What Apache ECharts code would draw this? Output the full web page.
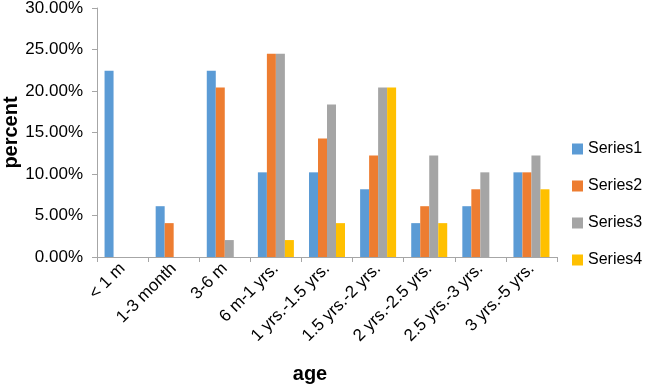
<!DOCTYPE html>
<html>
<head>
<meta charset="utf-8">
<script src="https://cdn.jsdelivr.net/npm/echarts@6/dist/echarts.min.js"></script>
<style>
  html, body { margin: 0; padding: 0; background: #fff; }
  #chart { width: 646px; height: 387px; }
</style>
</head>
<body>
<div id="chart"></div>
<script>
var categories = ['< 1 m', '1-3 month', '3-6 m', '6 m-1 yrs.', '1 yrs.-1.5 yrs.',
  '1.5 yrs.-2 yrs.', '2 yrs.-2.5 yrs.', '2.5 yrs.-3 yrs.', '3 yrs.-5 yrs.']
var series1 = [22.45, 6.12, 22.45, 10.2, 10.2, 8.16, 4.08, 6.12, 10.2]
var series2 = [0, 4.08, 20.41, 24.49, 14.29, 12.24, 6.12, 8.16, 10.2]
var series3 = [0, 0, 2.04, 24.49, 18.37, 20.41, 12.24, 10.2, 12.24]
var series4 = [0, 0, 0, 2.04, 4.08, 20.41, 4.08, 0, 8.16]
var seriesNames = ['Series1', 'Series2', 'Series3', 'Series4']
var colors = ['#5B9BD5', '#ED7D31', '#A5A5A5', '#FFC000']

var font = 'Liberation Sans'
var chart = echarts.init(document.getElementById('chart'))

function makeBar (name, data, color) {
  return {
    name: name,
    type: 'bar',
    data: data,
    barWidth: 9,
    barGap: '0%',
    itemStyle: { color: color },
    emphasis: { disabled: true }
  }
}

var option = {
  animation: false,
  textStyle: { fontFamily: font },
  grid: { left: 97, right: 89, top: 8, bottom: 130, outerBoundsMode: 'none' },
  legend: {
    orient: 'vertical',
    left: 572,
    top: 141,
    padding: 0,
    itemWidth: 11,
    itemHeight: 11,
    itemGap: 21,
    icon: 'rect',
    data: seriesNames,
    textStyle: { fontSize: 16, color: '#000', fontFamily: font }
  },
  xAxis: {
    type: 'category',
    data: categories,
    name: 'age',
    nameLocation: 'middle',
    nameGap: 107,
    nameMoveOverlap: false,
    nameTextStyle: {
      fontSize: 20,
      fontWeight: 'bold',
      color: '#000',
      fontFamily: font,
      padding: [0, 34, 0, 0]
    },
    axisLine: { lineStyle: { color: '#A6A6A6' } },
    axisTick: { show: true, length: 5, lineStyle: { color: '#A6A6A6' } },
    axisLabel: { rotate: 45, fontSize: 17, color: '#000', margin: 9, interval: 0 }
  },
  yAxis: {
    type: 'value',
    min: 0,
    max: 30,
    interval: 5,
    name: 'percent',
    nameLocation: 'middle',
    nameGap: 76,
    nameMoveOverlap: false,
    nameTextStyle: { fontSize: 20, fontWeight: 'bold', color: '#000', fontFamily: font },
    axisLine: { show: true, lineStyle: { color: '#A6A6A6' } },
    axisTick: { show: true, length: 5, lineStyle: { color: '#A6A6A6' } },
    splitLine: { show: false },
    axisLabel: {
      fontSize: 17,
      color: '#000',
      margin: 14,
      formatter: function (v) { return v.toFixed(2) + '%' }
    }
  },
  series: [
    makeBar(seriesNames[0], series1, colors[0]),
    makeBar(seriesNames[1], series2, colors[1]),
    makeBar(seriesNames[2], series3, colors[2]),
    makeBar(seriesNames[3], series4, colors[3])
  ]
}
chart.setOption(option)
</script>
</body>
</html>
